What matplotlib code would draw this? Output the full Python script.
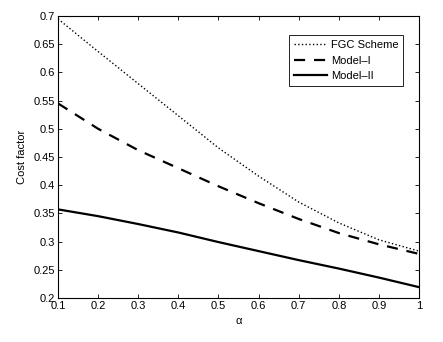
import matplotlib
matplotlib.use('Agg')
import matplotlib.pyplot as plt

plt.rcParams['font.family'] = ['Liberation Sans', 'DejaVu Sans']

alpha = [0.1, 0.2, 0.3, 0.4, 0.5, 0.6, 0.7, 0.8, 0.9, 1.0]
fgc = [0.695, 0.637, 0.580, 0.523, 0.466, 0.416, 0.370, 0.333, 0.303, 0.283]
model1 = [0.545, 0.500, 0.462, 0.430, 0.398, 0.368, 0.340, 0.315, 0.295, 0.278]
model2 = [0.357, 0.345, 0.331, 0.316, 0.299, 0.283, 0.267, 0.252, 0.236, 0.219]

xticks = [0.1, 0.2, 0.3, 0.4, 0.5, 0.6, 0.7, 0.8, 0.9, 1]
xticklabels = ['0.1', '0.2', '0.3', '0.4', '0.5', '0.6', '0.7', '0.8', '0.9', '1']
yticks = [0.2, 0.25, 0.3, 0.35, 0.4, 0.45, 0.5, 0.55, 0.6, 0.65, 0.7]
yticklabels = ['0.2', '0.25', '0.3', '0.35', '0.4', '0.45', '0.5', '0.55', '0.6', '0.65', '0.7']

fig = plt.figure(figsize=(4.43, 3.42), dpi=100)
ax = fig.add_axes([0.131, 0.129, 0.815, 0.824])

ax.plot(alpha, fgc, color='black', linestyle=':', linewidth=1.0, label='FGC Scheme')
ax.plot(alpha, model1, color='black', linestyle=(0, (5, 4)), linewidth=1.6, label='Model\u2013I')
ax.plot(alpha, model2, color='black', linestyle='-', linewidth=1.6, label='Model\u2013II')

ax.set_xlim(0.1, 1)
ax.set_ylim(0.2, 0.7)
ax.set_xticks(xticks)
ax.set_xticklabels(xticklabels)
ax.set_yticks(yticks)
ax.set_yticklabels(yticklabels)
ax.tick_params(direction='in', top=True, right=True, labelsize=8, length=3, width=0.6, pad=2)
for s in ax.spines.values():
    s.set_linewidth(0.8)

ax.set_xlabel('\u03b1', fontsize=8, labelpad=4)
ax.set_ylabel('Cost factor', fontsize=8, labelpad=5)

leg = ax.legend(loc='upper right', bbox_to_anchor=(0.972, 0.952), fontsize=8,
                fancybox=False, framealpha=1, edgecolor='black',
                handlelength=3.0, handletextpad=0.3, borderpad=0.45, labelspacing=0.5)
leg.get_frame().set_linewidth(0.6)

fig.savefig('out.png', dpi=100)
